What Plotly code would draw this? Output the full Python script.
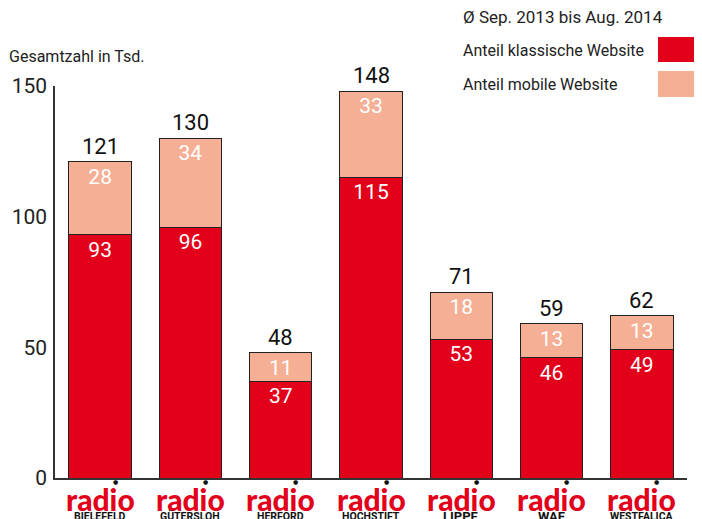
import plotly.graph_objects as go

stations = ["BIELEFELD", "GÜTERSLOH", "HERFORD", "HOCHSTIFT", "LIPPE", "WAF", "WESTFALICA"]
klassisch = [93, 96, 37, 115, 53, 46, 49]
mobil = [28, 34, 11, 33, 18, 13, 13]
gesamt = [121, 130, 48, 148, 71, 59, 62]
yticks = [0, 50, 100, 150]

RED = "#E2001A"
SALMON = "#F5AF94"
FONT = "Roboto"

# page body has an 8px margin, so the figure is drawn 8px smaller
OFF = 8
W, H = 702 - OFF, 519 - OFF
ML, MR, MT, MB = 55 - OFF, 15, 86 - OFF, 41
pw, ph = W - ML - MR, H - MT - MB

def px(x):
    return (x - OFF - ML) / pw

def py(y):
    return 1 - (y - OFF - MT) / ph

cats = list(range(len(stations)))

fig = go.Figure()
fig.add_trace(go.Bar(x=cats, y=klassisch, marker=dict(color=RED, line=dict(color="#222", width=1)),
                     text=[str(v) for v in klassisch], textposition="inside", insidetextanchor="end",
                     textangle=0, constraintext="none",
                     textfont=dict(color="white", size=21, family=FONT), showlegend=False))
fig.add_trace(go.Bar(x=cats, y=mobil, marker=dict(color=SALMON, line=dict(color="#222", width=1)),
                     text=[str(v) for v in mobil], textposition="inside", insidetextanchor="end",
                     textangle=0, constraintext="none",
                     textfont=dict(color="white", size=21, family=FONT), showlegend=False))

# totals above bars
for c, t in zip(cats, gesamt):
    fig.add_annotation(x=c, y=t, text=str(t), showarrow=False, yanchor="bottom", yshift=1,
                       font=dict(size=22, color="#111", family=FONT))

# station logos under the axis
for c, s in zip(cats, stations):
    fig.add_annotation(x=c, y=py(499), yref="paper", text="radio", showarrow=False,
                       font=dict(size=30, color=RED, family="Lato", weight=900), yanchor="middle")
    fig.add_annotation(x=c, y=py(482), yref="paper", text="●", showarrow=False, xshift=15,
                       font=dict(size=6, color="#111", family="DejaVu Sans"), yanchor="middle")
    fig.add_annotation(x=c, y=py(516), yref="paper", text="<b>" + s + "</b>", showarrow=False,
                       font=dict(size=10.5 if len(s) > 5 else 13, color="#111", family=FONT),
                       yanchor="middle")

# legend and titles
fig.add_annotation(x=px(461), y=py(17), xref="paper", yref="paper", text="Ø Sep. 2013 bis Aug. 2014",
                   showarrow=False, xanchor="left", yanchor="middle", font=dict(size=17, color="#222", family=FONT))
fig.add_annotation(x=px(461), y=py(50), xref="paper", yref="paper", text="Anteil klassische Website",
                   showarrow=False, xanchor="left", yanchor="middle", font=dict(size=16, color="#222", family=FONT))
fig.add_annotation(x=px(461), y=py(84), xref="paper", yref="paper", text="Anteil mobile Website",
                   showarrow=False, xanchor="left", yanchor="middle", font=dict(size=16, color="#222", family=FONT))
fig.add_annotation(x=px(7), y=py(56), xref="paper", yref="paper", text="Gesamtzahl in Tsd.",
                   showarrow=False, xanchor="left", yanchor="middle", font=dict(size=16, color="#222", family=FONT))
fig.add_shape(type="rect", xref="paper", yref="paper", x0=px(658), x1=px(702), y0=py(37), y1=py(62),
              fillcolor=RED, line=dict(width=0))
fig.add_shape(type="rect", xref="paper", yref="paper", x0=px(658), x1=px(702), y0=py(71), y1=py(97),
              fillcolor=SALMON, line=dict(width=0))

fig.update_layout(
    width=W, height=H, margin=dict(l=ML, r=MR, t=MT, b=MB, autoexpand=False),
    barmode="stack", bargap=0.31,
    plot_bgcolor="white", paper_bgcolor="white",
    xaxis=dict(range=[-0.5, 6.5], showticklabels=False, showgrid=False, zeroline=False,
               showline=True, linecolor="#333", linewidth=1.5, automargin=False),
    yaxis=dict(range=[0, 150], tickvals=yticks, showgrid=False, zeroline=False, automargin=False,
               showline=True, linecolor="#333", linewidth=1.5, ticks="", ticklabelstandoff=2,
               tickfont=dict(size=21, color="#222", family=FONT)),
)

fig.write_html("out.html")
